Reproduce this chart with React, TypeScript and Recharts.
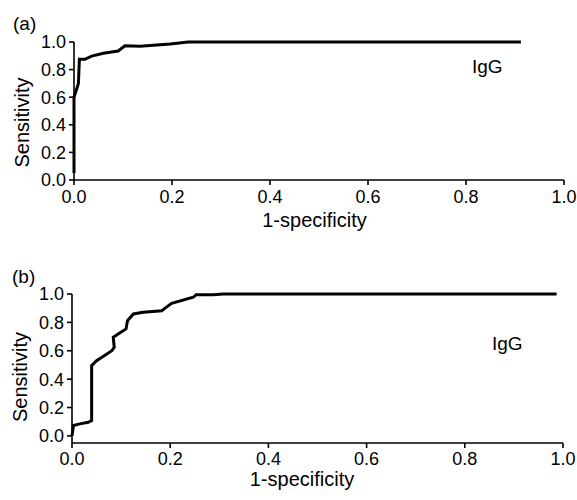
import React from 'react';
import { LineChart, Line, XAxis, YAxis } from 'recharts';

const ticks = [0, 0.2, 0.4, 0.6, 0.8, 1.0];

const fprA = [0, 0, 0, 0.009, 0.011, 0.022, 0.036, 0.06, 0.08, 0.09, 0.104, 0.135, 0.196, 0.233, 0.912];
const tprA = [0.05, 0.3, 0.6, 0.7, 0.875, 0.875, 0.898, 0.918, 0.93, 0.935, 0.973, 0.97, 0.985, 1.0, 1.0];

const fprB = [0, 0.003, 0.016, 0.033, 0.04, 0.04, 0.04, 0.05, 0.064, 0.081, 0.086, 0.084, 0.094, 0.11, 0.113, 0.125, 0.145, 0.183, 0.189, 0.203, 0.247, 0.253, 0.288, 0.308, 0.987];
const tprB = [0.0, 0.073, 0.085, 0.096, 0.108, 0.449, 0.495, 0.53, 0.561, 0.6, 0.624, 0.695, 0.718, 0.754, 0.812, 0.859, 0.871, 0.882, 0.899, 0.934, 0.977, 0.995, 0.995, 1.0, 1.0];

const dataA = fprA.map((x, i) => ({ x, y: tprA[i] }));
const dataB = fprB.map((x, i) => ({ x, y: tprB[i] }));

const FONT = '"Liberation Sans", Arial, Helvetica, sans-serif';
const tickStyle = { fill: '#000', fontSize: 18, fontFamily: FONT };
const axisLine = { stroke: '#000', strokeWidth: 1.6 };

function Panel({ data, yDomain, margin, tickMargin }: { data: any[]; yDomain: [number, number]; margin: any; tickMargin: number }) {
  return (
    <LineChart width={577} height={250} data={data} margin={margin}>
      <XAxis
        dataKey="x"
        type="number"
        domain={[0, 1]}
        ticks={ticks}
        tickFormatter={(v: number) => v.toFixed(1)}
        height={40}
        tickSize={5}
        tickMargin={tickMargin}
        tick={tickStyle}
        axisLine={axisLine}
        tickLine={axisLine}
      />
      <YAxis
        type="number"
        domain={yDomain}
        ticks={ticks}
        tickFormatter={(v: number) => v.toFixed(1)}
        width={40}
        tickSize={5}
        tickMargin={3}
        tick={tickStyle}
        axisLine={axisLine}
        tickLine={axisLine}
      />
      <Line dataKey="y" type="linear" stroke="#000" strokeWidth={3} dot={false} isAnimationActive={false} />
    </LineChart>
  );
}

export default function App() {
  const txt = { fontFamily: FONT, fill: '#000' } as any;
  return (
    <div style={{ position: 'absolute', left: 0, top: 0, width: 577, height: 500, background: '#fff' }}>
      <div style={{ position: 'absolute', left: 0, top: 0 }}>
        <Panel data={dataA} yDomain={[0, 1]} margin={{ top: 42, right: 13, left: 34, bottom: 30 }} tickMargin={5} />
      </div>
      <div style={{ position: 'absolute', left: 0, top: 250 }}>
        <Panel data={dataB} yDomain={[-0.05, 1]} margin={{ top: 44, right: 14, left: 32, bottom: 17 }} tickMargin={4} />
      </div>
      <svg width={577} height={500} style={{ position: 'absolute', left: 0, top: 0, pointerEvents: 'none' }}>
        <text x={13} y={30} fontSize={19} {...txt}>(a)</text>
        <text x={12} y={283} fontSize={19} {...txt}>(b)</text>
        <text x={472} y={73} fontSize={19} {...txt}>IgG</text>
        <text x={492} y={350} fontSize={19} {...txt}>IgG</text>
        <text x={314.5} y={227} fontSize={20} textAnchor="middle" {...txt}>1-specificity</text>
        <text x={302} y={486} fontSize={20} textAnchor="middle" {...txt}>1-specificity</text>
        <text x={29} y={122.5} fontSize={20} textAnchor="middle" transform="rotate(-90 29 122.5)" {...txt}>Sensitivity</text>
        <text x={27} y={377} fontSize={20} textAnchor="middle" transform="rotate(-90 27 377)" {...txt}>Sensitivity</text>
      </svg>
    </div>
  );
}
